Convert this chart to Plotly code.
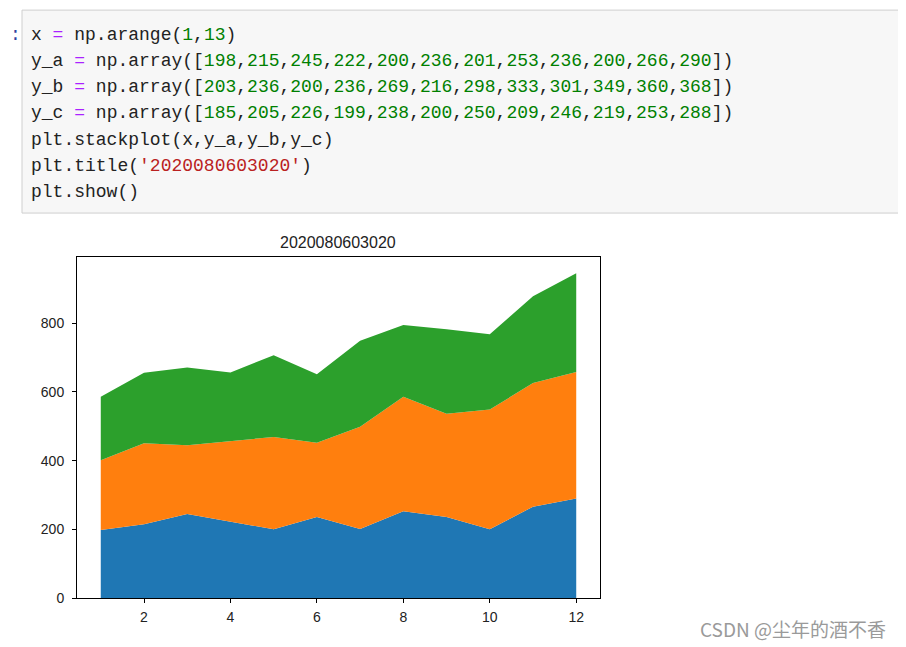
import numpy as np
import plotly.graph_objects as go

W, H = 906, 647
OFF = 8  # page body margin in the browser
VS = (H + OFF) / H  # the page is photographed slightly squeezed vertically

x = np.arange(1, 13)
y_a = [198, 215, 245, 222, 200, 236, 201, 253, 236, 200, 266, 290]
y_b = [203, 236, 200, 236, 269, 216, 298, 333, 301, 349, 360, 368]
y_c = [185, 205, 226, 199, 238, 200, 250, 209, 246, 219, 253, 288]
title = "2020080603020"
x_ticks = [2, 4, 6, 8, 10, 12]
y_ticks = [0, 200, 400, 600, 800]

TAB_BLUE = "#1f77b4"
TAB_ORANGE = "#ff7f0e"
TAB_GREEN = "#2ca02c"

C_OP = "#aa22ff"
C_NUM = "#008000"
C_STR = "#ba2121"
C_TXT = "#222222"


def px(v):
    return (v - OFF) / W


def py(v):
    return 1 - (v * VS - OFF) / H


def sp(text, color):
    return f'<span style="color:{color}">{text}</span>'


def arr_line(name, vals):
    nums = ",".join(sp(str(v), C_NUM) for v in vals)
    return sp(f"{name} ", C_TXT) + sp("=", C_OP) + sp(" np.array([", C_TXT) + nums + sp("])", C_TXT)


code_lines = [
    sp("x ", C_TXT) + sp("=", C_OP) + sp(" np.arange(", C_TXT) + sp("1", C_NUM) + sp(",", C_TXT)
    + sp("13", C_NUM) + sp(")", C_TXT),
    arr_line("y_a", y_a),
    arr_line("y_b", y_b),
    arr_line("y_c", y_c),
    sp("plt.stackplot(x,y_a,y_b,y_c)", C_TXT),
    sp("plt.title(", C_TXT) + sp(f"'{title}'", C_STR) + sp(")", C_TXT),
    sp("plt.show()", C_TXT),
]
line_y = [35, 61, 87, 113, 140, 166, 192]

fig = go.Figure()
for ys, col in [(y_a, TAB_BLUE), (y_b, TAB_ORANGE), (y_c, TAB_GREEN)]:
    fig.add_trace(go.Scatter(
        x=x, y=ys, mode="lines", stackgroup="one",
        line=dict(width=0, color=col), fillcolor=col,
        hoverinfo="skip", showlegend=False,
    ))

axis_common = dict(
    showgrid=False, zeroline=False, showline=True, linecolor="black",
    linewidth=1, mirror=True, ticks="outside", ticklen=4, tickcolor="black",
    tickfont=dict(family="Liberation Sans", size=14, color="#222222"),
)
fig.update_xaxes(range=[0.45, 12.55], tickvals=x_ticks, ticklabelstandoff=2,
                 domain=[px(77), px(600)], **axis_common)
fig.update_yaxes(range=[0, 993], tickvals=y_ticks, ticklabelstandoff=5,
                 domain=[py(598), py(257)], **axis_common)

# notebook code cell
fig.add_shape(type="rect", xref="paper", yref="paper",
              x0=px(22), x1=px(920), y0=py(213), y1=py(10),
              fillcolor="#f7f7f7", line=dict(color="#cfcfcf", width=1), layer="below")

ann = [dict(x=px(8), y=py(35), text=":", font=dict(color="#303f9f", size=18,
            family="Liberation Mono"))]
for t, ly in zip(code_lines, line_y):
    ann.append(dict(x=px(29), y=py(ly), text=t,
                    font=dict(family="Liberation Mono", size=18, color=C_TXT)))
ann.append(dict(x=px(338), y=py(242), xanchor="center", text=title,
                font=dict(family="Liberation Sans", size=16, color="#222222")))
ann.append(dict(x=px(698), y=py(628), text="CSDN @尘年的酒不香",
                font=dict(family="Noto Sans CJK SC", size=19, color="#9a9a9a")))
for a in ann:
    a.setdefault("xanchor", "left")
    a.update(xref="paper", yref="paper", yanchor="middle", showarrow=False)

fig.update_layout(
    width=W, height=H, margin=dict(l=0, r=0, t=0, b=0),
    paper_bgcolor="white", plot_bgcolor="white",
    annotations=ann,
)
fig.write_html("out.html")
